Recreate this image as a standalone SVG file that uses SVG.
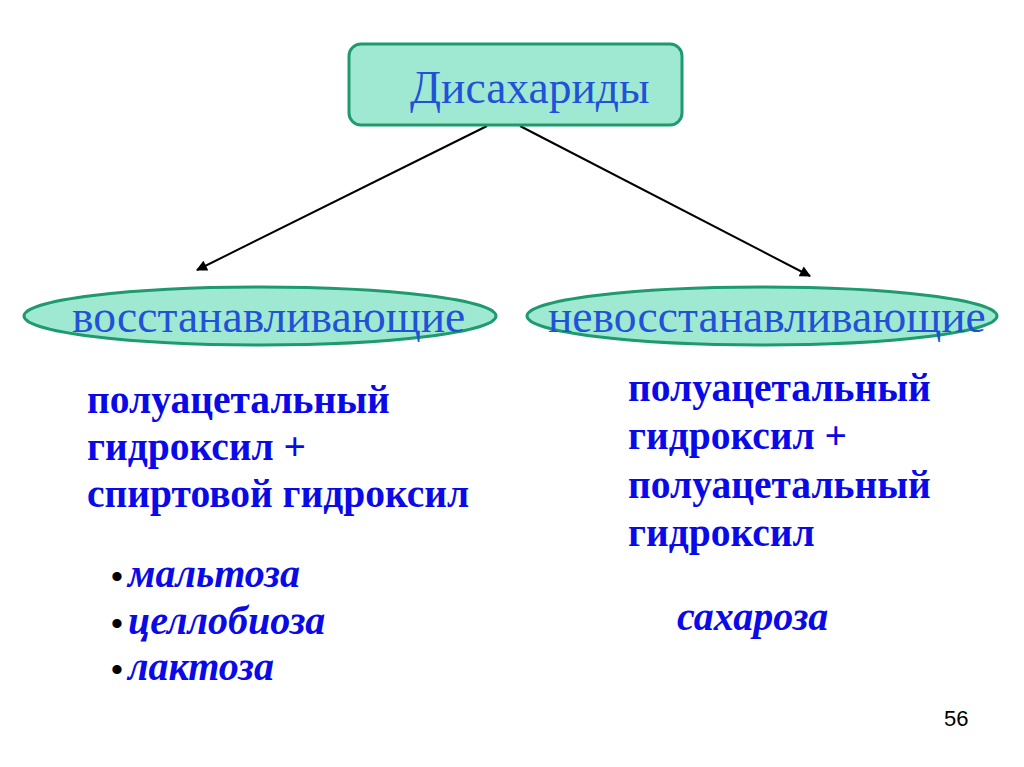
<svg xmlns="http://www.w3.org/2000/svg" width="1024" height="767" viewBox="0 0 1024 767">
<style>
.node{fill:#9FE8D2;stroke:#1E9A6E;stroke-width:3}
.title{font-family:"Liberation Serif",serif;fill:#1F52D6;font-size:45.5px}
.body{font-family:"Liberation Serif","Times New Roman",serif;font-weight:bold;fill:#0A0AE8;font-size:39.5px}
.ex{font-family:"Liberation Serif","Times New Roman",serif;font-weight:bold;font-style:italic;fill:#0A0AE8;font-size:40px}
.bul{font-family:"Liberation Sans",Arial,sans-serif;fill:#000;font-size:34px}
.conn line{stroke:#000;stroke-width:2}
</style>
<defs>
<marker id="ah" viewBox="0 0 10 10" refX="9" refY="5" markerWidth="13" markerHeight="11" orient="auto" markerUnits="userSpaceOnUse">
<path d="M0,0 L10,5 L0,10 z" fill="#000"/>
</marker>
</defs>
<rect width="1024" height="767" fill="#fff"/>
<g id="conns" class="conn">
<line x1="487" y1="126" x2="197" y2="270" marker-end="url(#ah)"/>
<line x1="520" y1="126" x2="810" y2="276" marker-end="url(#ah)"/>
</g>
<g id="disaccharides">
<rect class="node" x="349" y="44" width="333" height="81" rx="12"/>
<text class="title" x="410" y="103">Дисахариды</text>
</g>
<g id="reducing">
<ellipse class="node" cx="260" cy="316" rx="236" ry="29"/>
<text class="title" x="72" y="332">восстанавливающие</text>
</g>
<g id="nonreducing">
<ellipse class="node" cx="762" cy="316" rx="235" ry="29"/>
<text class="title" x="548" y="332">невосстанавливающие</text>
</g>
<g id="left-desc">
<text class="body" x="87" y="413">полуацетальный</text>
<text class="body" x="87" y="460">гидроксил +</text>
<text class="body" x="87" y="507">спиртовой гидроксил</text>
</g>
<g id="left-examples">
<text class="bul" x="111" y="588">•</text><text class="ex" x="128" y="587">мальтоза</text>
<text class="bul" x="111" y="635">•</text><text class="ex" x="128" y="634">целлобиоза</text>
<text class="bul" x="111" y="681">•</text><text class="ex" x="128" y="680">лактоза</text>
</g>
<g id="right-desc">
<text class="body" x="628" y="401">полуацетальный</text>
<text class="body" x="628" y="449">гидроксил +</text>
<text class="body" x="628" y="498">полуацетальный</text>
<text class="body" x="628" y="546">гидроксил</text>
</g>
<g id="right-example">
<text class="ex" x="677" y="630">сахароза</text>
</g>
<text x="944" y="726" font-family="Liberation Sans,Arial,sans-serif" font-size="22" fill="#000">56</text>
</svg>
